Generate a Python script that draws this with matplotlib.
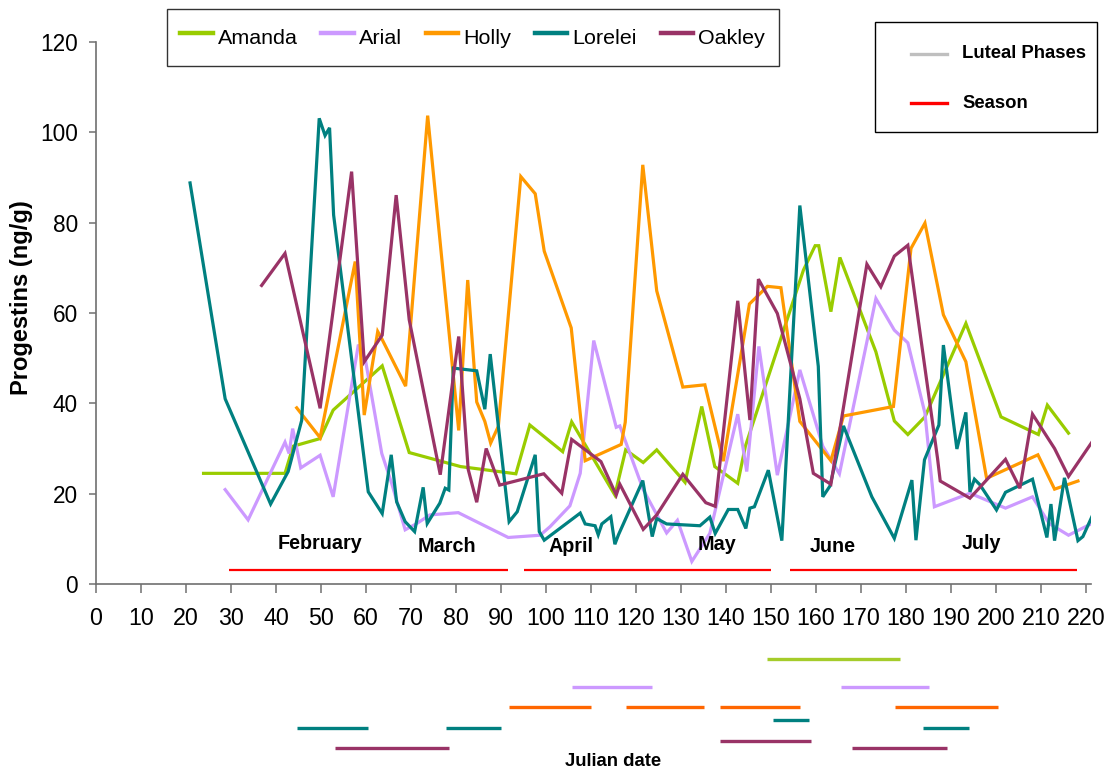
import matplotlib
matplotlib.use("Agg")
import matplotlib.pyplot as plt
from matplotlib import font_manager
from matplotlib.lines import Line2D
from matplotlib.patches import Rectangle


def has_font(name):
    try:
        font_manager.findfont(font_manager.FontProperties(family=name), fallback_to_default=False)
        return True
    except Exception:
        return False


NARROW = has_font("Liberation Sans Narrow")
FN = "Liberation Sans Narrow" if NARROW else "Liberation Sans"
K = 1.0 if NARROW else 0.86

# ---------------- data ----------------
amanda_day = [23.9, 42.0, 43.8, 49.8, 52.7, 63.6, 69.6, 81.0, 93.3, 96.4, 103.7, 105.7,
              115.3, 117.7, 121.6, 124.6, 130.9, 134.6, 137.5, 142.6, 144.3, 157.2, 159.8,
              160.6, 163.3, 165.3, 173.3, 177.4, 180.4, 184.2, 193.3, 201.1, 209.4, 211.4, 216.1]
amanda_val = [24.5, 24.5, 30.5, 32.2, 38.5, 48.3, 29.1, 26.0, 24.4, 35.2, 29.3, 35.9,
              19.7, 29.7, 26.9, 29.7, 22.5, 39.3, 26.0, 22.3, 30.5, 69.5, 74.9,
              74.9, 60.3, 72.3, 51.4, 36.1, 33.1, 37.0, 57.7, 37.0, 33.1, 39.6, 33.4]

arial_day = [28.7, 33.8, 42.0, 42.9, 43.7, 45.5, 49.8, 52.7, 58.3, 59.8, 63.5, 65.7, 68.7,
             71.3, 74.2, 80.5, 91.6, 98.7, 100.9, 105.3, 107.6, 110.6, 115.6, 116.4, 121.6,
             126.8, 129.2, 132.4, 136.4, 142.6, 144.6, 147.3, 151.4, 156.4, 161.5, 165.2,
             173.3, 177.4, 180.4, 184.2, 186.3, 194.2, 202.1, 208.1, 211.8, 216.1, 221.3]
arial_val = [20.9, 14.2, 31.4, 28.9, 34.4, 25.7, 28.5, 19.3, 53.0, 50.0, 28.9, 22.3, 12.0,
             13.4, 15.3, 15.8, 10.3, 10.8, 12.7, 17.3, 24.5, 53.9, 34.7, 35.0, 20.9,
             11.3, 14.1, 5.0, 11.2, 37.6, 24.9, 52.6, 24.1, 47.4, 30.5, 24.4,
             63.2, 56.2, 53.4, 37.8, 17.1, 20.1, 16.8, 19.3, 13.4, 10.8, 13.4]

holly_day = [44.6, 49.8, 57.6, 59.6, 62.6, 63.5, 68.8, 73.7, 80.6, 82.6, 84.6, 86.4, 87.7,
             89.4, 94.4, 97.6, 99.6, 105.6, 108.7, 116.7, 117.6, 121.5, 124.6, 130.4, 135.3,
             139.4, 145.2, 149.2, 152.2, 156.4, 163.3, 166.1, 177.2, 181.1, 184.2, 188.3,
             193.3, 197.9, 209.3, 213.0, 218.2]
holly_val = [39.0, 32.4, 71.4, 37.4, 55.9, 54.3, 43.8, 103.7, 34.0, 67.3, 40.3, 36.0, 31.2,
             34.9, 90.2, 86.4, 73.7, 56.7, 27.3, 30.9, 35.8, 92.8, 64.9, 43.6, 44.1,
             27.2, 62.0, 65.9, 65.6, 36.0, 27.3, 37.2, 39.3, 74.3, 79.9, 59.6,
             49.2, 23.4, 28.6, 21.0, 22.8]

lorelei_day = [20.9, 28.7, 38.8, 42.7, 45.7, 49.6, 50.9, 51.9, 52.8, 60.5, 63.6, 65.6, 66.8,
               68.7, 70.8, 72.7, 73.6, 76.4, 77.6, 78.4, 79.4, 84.6, 86.4, 87.6, 91.8, 93.6,
               97.6, 98.5, 99.6, 107.6, 108.7, 110.9, 111.6, 112.4, 114.4, 115.3, 116.1,
               121.5, 123.6, 124.6, 126.8, 134.2, 136.4, 137.6, 140.5, 142.6, 144.4, 145.3,
               146.3, 149.4, 152.4, 156.4, 160.5, 161.5, 163.1, 166.1, 172.4, 177.4, 181.3,
               182.2, 184.1, 187.3, 188.3, 191.3, 193.3, 194.2, 195.2, 196.4, 200.1, 202.1,
               208.1, 211.3, 212.2, 213.0, 215.2, 218.2, 219.3, 221.3]
lorelei_val = [88.8, 41.0, 17.7, 24.9, 36.2, 103.1, 99.3, 101.0, 81.7, 20.4, 15.6, 28.6, 18.2,
               13.8, 11.6, 21.4, 13.4, 17.9, 21.2, 20.8, 47.8, 47.2, 38.7, 50.9, 13.8, 16.0,
               28.6, 11.6, 9.7, 15.7, 13.3, 12.9, 10.9, 13.3, 14.9, 8.8, 10.9,
               22.9, 10.5, 14.5, 13.3, 12.9, 14.8, 11.2, 16.5, 16.5, 12.3, 16.8,
               17.1, 25.2, 9.6, 83.8, 48.2, 19.3, 21.7, 35.0, 19.3, 10.1, 23.0,
               9.7, 27.5, 35.2, 52.9, 29.9, 38.0, 20.4, 23.2, 22.0, 16.4, 20.3,
               23.2, 10.3, 17.7, 9.6, 23.5, 9.6, 10.5, 14.9]

oakley_day = [36.8, 42.0, 49.8, 56.8, 59.6, 63.6, 66.7, 69.6, 76.5, 80.6, 82.7, 84.6, 86.7,
              89.7, 99.5, 103.5, 105.7, 112.2, 115.6, 116.4, 121.6, 124.6, 130.4, 135.5,
              137.6, 142.6, 145.3, 147.2, 151.4, 156.4, 159.4, 163.3, 171.3, 174.4, 177.4,
              180.4, 187.0, 187.6, 194.2, 202.1, 205.3, 208.1, 213.0, 216.1, 221.3]
oakley_val = [66.1, 73.2, 38.9, 91.3, 49.2, 55.1, 86.1, 58.5, 24.2, 54.8, 25.4, 18.1, 30.0,
              21.9, 24.4, 20.1, 32.0, 27.1, 19.7, 22.1, 12.1, 15.3, 24.3, 18.0,
              17.2, 62.7, 36.3, 67.5, 59.9, 41.0, 24.5, 22.1, 70.8, 65.8, 72.6,
              75.0, 27.8, 22.8, 19.0, 27.6, 21.2, 37.6, 30.0, 23.8, 31.4]

# season bars (start day, end day) drawn at a small constant level
season_start = [29.6, 95.0, 154.2]
season_end = [91.6, 150.1, 218.1]
season_level = 3
month_names = ["February", "March", "April", "May", "June", "July"]
month_day = [49.8, 78.0, 105.6, 138.0, 163.8, 196.7]
month_level = [6.9, 6.2, 6.2, 6.6, 6.2, 6.9]

# luteal phases (start, end) per animal
amanda_luteal = [(149.2, 178.7)]
arial_luteal = [(105.7, 123.6), (165.6, 185.1)]
holly_luteal = [(91.8, 110.0), (117.8, 135.0), (138.7, 156.4), (177.5, 200.5)]
lorelei_luteal_a = [(150.5, 158.4)]
lorelei_luteal_b = [(44.6, 60.4), (77.7, 89.9), (183.7, 194.0)]
oakley_luteal_a = [(138.7, 158.8)]
oakley_luteal_b = [(53.2, 78.5), (167.9, 189.0)]

names = ["Amanda", "Arial", "Holly", "Lorelei", "Oakley"]

# ---------------- styles ----------------
C_AMANDA = "#99CC00"
C_ARIAL = "#CC99FF"
C_HOLLY = "#FF9900"
C_LORELEI = "#008080"
C_OAKLEY = "#993366"
C_LUT_AMANDA = "#A5CC2A"
C_LUT_HOLLY = "#FF6600"
AX_COLOR = "#707070"
LW = 2.3

W, H = 1104, 773
fig = plt.figure(figsize=(W / 100, H / 100), dpi=100)

ax_l, ax_r = 96, 1091
ax_t, ax_b = 42, 584
ax = fig.add_axes([ax_l / W, 1 - ax_b / H, (ax_r - ax_l) / W, (ax_b - ax_t) / H])

series = [(amanda_day, amanda_val, C_AMANDA), (arial_day, arial_val, C_ARIAL),
          (holly_day, holly_val, C_HOLLY), (lorelei_day, lorelei_val, C_LORELEI),
          (oakley_day, oakley_val, C_OAKLEY)]
handles = []
for (d, v, c), n in zip(series, names):
    h, = ax.plot(d, v, color=c, lw=LW, solid_joinstyle="miter", label=n)
    handles.append(h)

for s, e in zip(season_start, season_end):
    ax.plot([s, e], [season_level, season_level], color="#FF0000", lw=1.6,
            solid_capstyle="butt")

for name, d, lv in zip(month_names, month_day, month_level):
    ax.text(d, lv, name, ha="center", va="bottom", family=FN, fontweight="bold",
            fontsize=16.5 * K)

ax.set_xlim(0, 221.1)
ax.set_ylim(0, 120)
ax.set_xticks(range(0, 221, 10))
ax.set_yticks(range(0, 121, 20))
for side in ("top", "right"):
    ax.spines[side].set_visible(False)
for side in ("left", "bottom"):
    ax.spines[side].set_color(AX_COLOR)
    ax.spines[side].set_linewidth(1.2)
ax.tick_params(axis="y", direction="out", length=5, width=1.1, color=AX_COLOR, pad=8,
               labelsize=19 * K)
ax.tick_params(axis="x", direction="out", length=6.5, width=1.1, color=AX_COLOR, pad=10,
               labelsize=19.5 * K)
for lab in ax.get_xticklabels() + ax.get_yticklabels():
    lab.set_family(FN)

# y label
fig.text(22 / W, 1 - 298 / H, "Progestins (ng/g)", rotation=90, ha="center", va="center",
         family="Liberation Sans", fontweight="bold", fontsize=17)

# ---------------- luteal phase strip below the axis ----------------
lut_top, lut_bot = 645, 760
axl = fig.add_axes([ax_l / W, 1 - lut_bot / H, (ax_r - ax_l) / W, (lut_bot - lut_top) / H])
axl.set_xlim(ax.get_xlim())
axl.set_ylim(lut_bot, lut_top)
axl.axis("off")
lut_rows = [(amanda_luteal, C_LUT_AMANDA, 659), (arial_luteal, C_ARIAL, 687),
            (holly_luteal, C_LUT_HOLLY, 707), (lorelei_luteal_a, C_LORELEI, 720),
            (lorelei_luteal_b, C_LORELEI, 728), (oakley_luteal_a, C_OAKLEY, 741),
            (oakley_luteal_b, C_OAKLEY, 748)]
for phases, c, row in lut_rows:
    for s, e in phases:
        axl.plot([s, e], [row, row], color=c, lw=2.4, solid_capstyle="butt")

fig.text(613 / W, 1 - 762 / H, "Julian date", ha="center", va="center", family=FN,
         fontweight="bold", fontsize=15.5 * K)

# ---------------- legends ----------------
leg = fig.legend(handles, names, loc="upper left", bbox_to_anchor=(167 / W, 1 - 9 / H),
                 ncol=5, frameon=True, fancybox=False, edgecolor="black",
                 prop=font_manager.FontProperties(family=FN, size=18 * K),
                 handlelength=1.5, handleheight=1.8, handletextpad=0.25, columnspacing=1.1,
                 borderpad=0.62, borderaxespad=0)
leg.get_frame().set_linewidth(1.0)
for lh in leg.get_lines():
    lh.set_linewidth(3.2)

# second legend (drawn manually as box + handles + labels)
bx0, by0, bx1, by1 = 875, 22, 1097, 132
fig.add_artist(Rectangle((bx0 / W, 1 - by1 / H), (bx1 - bx0) / W, (by1 - by0) / H,
                         transform=fig.transFigure, facecolor="white", edgecolor="black",
                         lw=1.0))
leg2_labels = ["Luteal Phases", "Season"]
leg2_colors = ["#BFBFBF", "#FF0000"]
leg2_rows = [54, 103]
for lab, c, r in zip(leg2_labels, leg2_colors, leg2_rows):
    fig.add_artist(Line2D([911 / W, 947 / W], [1 - r / H, 1 - r / H], transform=fig.transFigure,
                          color=c, lw=2.4))
    fig.text(962 / W, 1 - r / H, lab, ha="left", va="center", family=FN, fontweight="bold",
             fontsize=15.5 * K)

fig.savefig("out.png", dpi=100)
